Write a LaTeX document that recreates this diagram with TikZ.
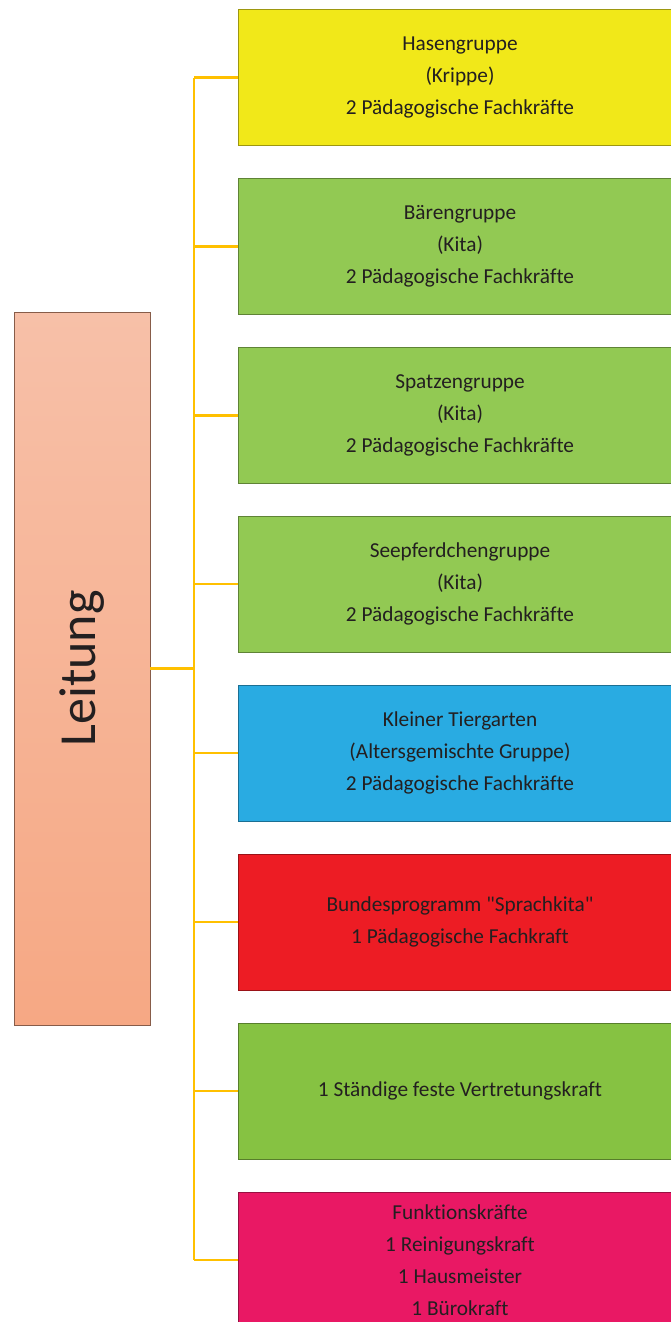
\documentclass[tikz,border=0pt]{standalone}
\usepackage{fontspec}
\setmainfont{Carlito}[Ligatures={NoCommon}]
\newfontfamily\qf{Carlito}[Ligatures={NoCommon}]
\definecolor{conn}{HTML}{FFC000}
\definecolor{txt}{HTML}{231F20}
\definecolor{cyellow}{HTML}{F1E819}
\definecolor{cgreen}{HTML}{92C953}
\definecolor{cgreenb}{HTML}{86C242}
\definecolor{cblue}{HTML}{29ABE2}
\definecolor{cred}{HTML}{ED1C24}
\definecolor{cpink}{HTML}{E91864}
\definecolor{lead1}{HTML}{F7C0A8}
\definecolor{lead2}{HTML}{F6A884}
\begin{document}
\begin{tikzpicture}[x=1pt,y=-1pt,
  grp/.style={rectangle, minimum width=444pt, minimum height=136pt, inner sep=0pt,
    align=center, text=txt, line width=0.9pt, fill=#1, draw=#1!65!black,
    font=\fontsize{21.3}{32}\selectfont},
  link/.style={draw=conn, line width=2.4pt}]
\useasboundingbox (0,0) rectangle (671,1322);
\clip (0,0) rectangle (671,1322);
\fill[white] (0,0) rectangle (671,1322);
\node[rectangle, minimum width=136pt, minimum height=713pt, inner sep=0pt,
  top color=lead1, bottom color=lead2, draw=black!45!lead2, line width=0.9pt] (L) at (82,668.5) {};
\node[rotate=90, text=txt, font=\fontsize{52}{52}\selectfont] (Lt) at (82,668.5) {Leitung};
\node[grp=cyellow] (b1) at (460,77.5) {Hasengruppe\\(Krippe)\\2 Pädagogische Fachkräfte};
\node[grp=cgreen] (b2) at (460,246.5) {Bärengruppe\\(Kita)\\2 Pädagogische Fachkräfte};
\node[grp=cgreen] (b3) at (460,415.5) {Spatzengruppe\\(Kita)\\2 Pädagogische Fachkräfte};
\node[grp=cgreen] (b4) at (460,584) {Seepferdchengruppe\\(Kita)\\2 Pädagogische Fachkräfte};
\node[grp=cblue] (b5) at (460,753) {Kleiner Tiergarten\\(Altersgemischte Gruppe)\\2 Pädagogische Fachkräfte};
\node[grp=cred] (b6) at (460,922) {Bundesprogramm {\qf"}Sprachkita{\qf"}\\1 Pädagogische Fachkraft};
\node[grp=cgreenb] (b7) at (460,1091) {1 Ständige feste Vertretungskraft};
\node[grp=cpink] (b8) at (460,1260) {Funktionskräfte\\1 Reinigungskraft\\1 Hausmeister\\1 Bürokraft};
\coordinate (bus) at (194,668.5);
\draw[link] (L.east) -- (bus);
\draw[link] (b1.west -| bus) -- (b8.west -| bus);
\foreach \i in {1,...,8} {\draw[link] (b\i.west -| bus) -- (b\i.west);}
\end{tikzpicture}
\end{document}
